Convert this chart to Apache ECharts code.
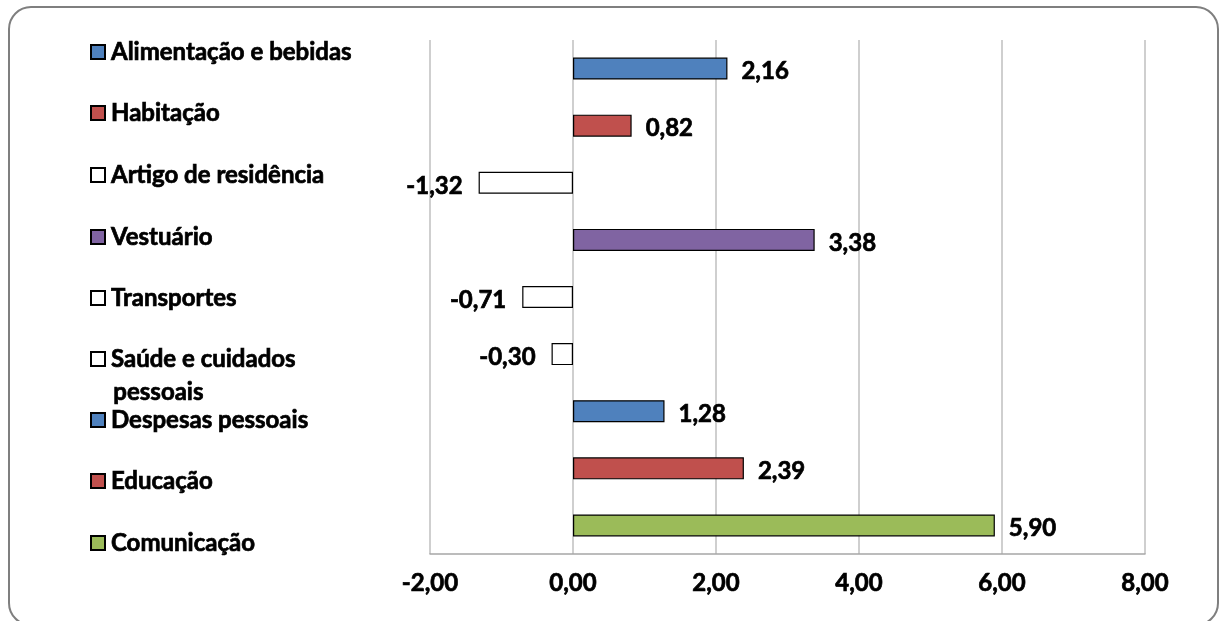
<!DOCTYPE html>
<html>
<head>
<meta charset="utf-8">
<script src="https://cdn.jsdelivr.net/npm/echarts@6/dist/echarts.min.js"></script>
<style>
  html, body { margin: 0; padding: 0; background: #fff; }
  #chart { width: 1219px; height: 621px; }
</style>
</head>
<body>
<div id="chart"></div>
<script>
// Categories (top to bottom) and their values
const categories = [
  'Alimentação e bebidas',
  'Habitação',
  'Artigo de residência',
  'Vestuário',
  'Transportes',
  'Saúde e cuidados',
  'Despesas pessoais',
  'Educação',
  'Comunicação'
];
const values = [2.16, 0.82, -1.32, 3.38, -0.71, -0.30, 1.28, 2.39, 5.90];
const barColors = ['#4F81BD', '#C0504D', '#FFFFFF', '#8064A2', '#FFFFFF', '#FFFFFF', '#4F81BD', '#C0504D', '#9BBB59'];
const xTicks = { min: -2, max: 8, step: 2 };

const FONT = 'Lato';
const WEIGHT = 'bold';
const SIZE = 24;
// a thin outline in the text colour makes the bold glyphs a bit heavier
const heavy = { textBorderColor: '#000', textBorderWidth: 0.7 };
const fmt = v => Number(v).toFixed(2).replace('.', ',');

// Vertical centre of each legend row
const legendCenters = [52, 113, 175, 237, 298, 359, 420, 481, 543];

const series = categories.map((name, i) => ({
  name: name,
  type: 'bar',
  stack: 'all',
  barWidth: 22,
  data: categories.map((c, j) => (j === i ? values[i] : '-')),
  itemStyle: { color: barColors[i], borderColor: '#000', borderWidth: 1.2 },
  label: Object.assign({
    show: true,
    position: values[i] >= 0 ? 'right' : 'left',
    distance: values[i] >= 0 ? 14 : 16,
    offset: [0, 3],
    formatter: p => fmt(p.value),
    color: '#000',
    fontFamily: FONT,
    fontWeight: WEIGHT,
    fontSize: SIZE
  }, heavy),
  emphasis: { disabled: true }
}));

const legends = categories.map((name, i) => ({
  data: [name],
  left: 90,
  top: legendCenters[i] - 13,
  padding: 0,
  itemWidth: 14,
  itemHeight: 14,
  itemGap: 0,
  selectedMode: false,
  icon: 'rect',
  textStyle: Object.assign({
    color: '#000',
    fontFamily: FONT,
    fontWeight: WEIGHT,
    fontSize: SIZE,
    lineHeight: 26,
    padding: [0, 0, 0, 1]
  }, heavy)
}));

const chart = echarts.init(document.getElementById('chart'));
chart.setOption({
  animation: false,
  backgroundColor: '#fff',
  grid: { left: 430, right: 74, top: 40, bottom: 67 },
  legend: legends,
  xAxis: {
    type: 'value',
    min: xTicks.min,
    max: xTicks.max,
    interval: xTicks.step,
    axisLine: { show: true, lineStyle: { color: '#A6A6A6', width: 1.5 } },
    axisTick: { show: false },
    splitLine: { show: true, lineStyle: { color: '#BFBFBF', width: 1.5 } },
    axisLabel: Object.assign({
      formatter: v => fmt(v),
      color: '#000',
      fontFamily: FONT,
      fontWeight: WEIGHT,
      fontSize: SIZE,
      margin: 17
    }, heavy)
  },
  yAxis: {
    type: 'category',
    inverse: true,
    data: categories,
    axisLine: { show: false },
    axisTick: { show: false },
    axisLabel: { show: false }
  },
  series: series,
  graphic: [
    {
      type: 'rect',
      shape: { x: 9, y: 7, width: 1209, height: 618, r: 22 },
      style: { fill: null, stroke: '#7F7F7F', lineWidth: 2 },
      silent: true
    },
    {
      type: 'text',
      left: 113,
      top: 380,
      style: {
        text: 'pessoais',
        fill: '#000',
        stroke: '#000',
        lineWidth: 0.7,
        font: WEIGHT + ' ' + SIZE + 'px ' + FONT
      },
      silent: true
    }
  ]
});
</script>
</body>
</html>
